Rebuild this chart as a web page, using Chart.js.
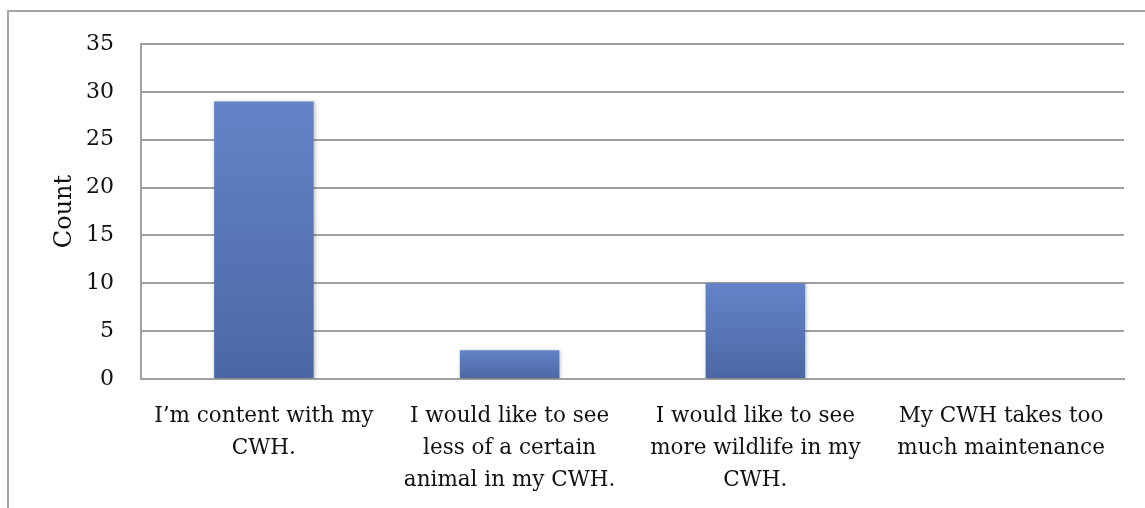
<!DOCTYPE html>
<html>
<head>
<meta charset="utf-8">
<script src="https://cdn.jsdelivr.net/npm/chart.js@4.4.1/dist/chart.umd.min.js"></script>
<style>
  html, body { margin: 0; padding: 0; background: #fff; overflow: hidden; }
  .frame {
    position: absolute; left: 7px; top: 10px; width: 1300px; height: 700px;
    border-left: 2px solid #a5a5a5; border-top: 2px solid #a5a5a5;
  }
  .wrap { position: absolute; left: 0; top: 0; width: 1145px; height: 508px; }
</style>
</head>
<body>
<div class="frame"></div>
<div class="wrap"><canvas id="chart"></canvas></div>
<script>
// Survey answers and counts
const categories = [
  ['I’m content with my', 'CWH.'],
  ['I would like to see', 'less of a certain', 'animal in my CWH.'],
  ['I would like to see', 'more wildlife in my', 'CWH.'],
  ['My CWH takes too', 'much maintenance']
];
const counts = [29, 3, 10, 0];
const yTicks = [0, 5, 10, 15, 20, 25, 30, 35];

const FONT = '"DejaVu Serif", "Liberation Serif", serif';
const gridColor = '#a0a0a0';

// each bar fades from a lighter blue at the top to a darker one at the base
function barGradient(ctx) {
  const chart = ctx.chart;
  if (!chart.chartArea || !chart.scales.y) return '#5a78bb';
  const y = chart.scales.y;
  const top = y.getPixelForValue(ctx.raw);
  const base = y.getPixelForValue(0);
  if (!isFinite(top) || base - top < 1) return '#5a78bb';
  const g = chart.ctx.createLinearGradient(0, top, 0, base);
  g.addColorStop(0, '#6384c9');
  g.addColorStop(1, '#4c67a3');
  return g;
}

const barShadow = {
  id: 'barShadow',
  beforeDatasetDraw(chart) {
    const c = chart.ctx;
    c.save();
    c.shadowColor = 'rgba(0,0,0,0.28)';
    c.shadowBlur = 4;
    c.shadowOffsetX = 1;
    c.shadowOffsetY = 1;
  },
  afterDatasetDraw(chart) {
    chart.ctx.restore();
  }
};

new Chart(document.getElementById('chart'), {
  type: 'bar',
  data: {
    labels: categories,
    datasets: [{
      data: counts,
      backgroundColor: barGradient,
      borderWidth: 0,
      barPercentage: 0.81,
      categoryPercentage: 0.5
    }]
  },
  plugins: [barShadow],
  options: {
    responsive: true,
    maintainAspectRatio: false,
    animation: false,
    layout: { padding: { left: 50, top: 44, right: 21, bottom: 0 } },
    plugins: {
      legend: { display: false },
      tooltip: { enabled: false }
    },
    scales: {
      x: {
        grid: { display: false, drawTicks: false },
        border: { color: gridColor, width: 2 },
        ticks: {
          color: '#111',
          font: { family: FONT, size: 21.5, lineHeight: 1.48 },
          padding: 22,
          maxRotation: 0,
          autoSkip: false
        },
        afterFit(scale) { scale.height = 129; }
      },
      y: {
        min: 0,
        max: 35,
        afterBuildTicks(scale) { scale.ticks = yTicks.map(v => ({ value: v })); },
        grid: { color: gridColor, lineWidth: 2, drawTicks: false },
        border: { color: gridColor, width: 2 },
        ticks: {
          color: '#111',
          font: { family: FONT, size: 22 },
          padding: 27
        },
        title: {
          display: true,
          text: 'Count',
          color: '#111',
          font: { family: FONT, size: 24 },
          padding: 0
        },
        afterFit(scale) { scale.width = 91; }
      }
    }
  }
});
</script>
</body>
</html>
